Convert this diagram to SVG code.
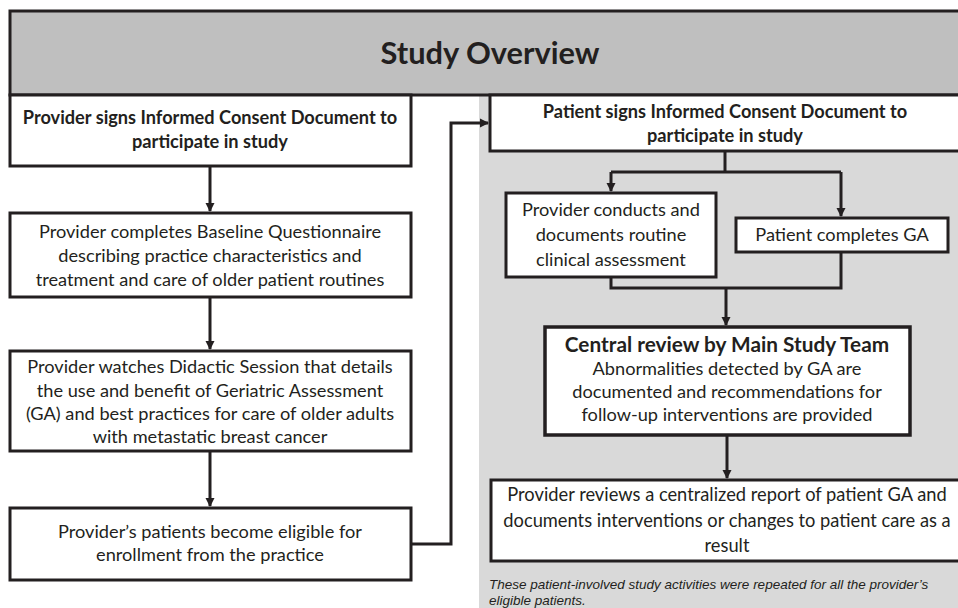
<svg xmlns="http://www.w3.org/2000/svg" width="958" height="608" viewBox="0 0 958 608">
<defs>
<style>
.box{fill:#fff;stroke:#231f20;stroke-width:3}
.t{font-family:Lato,"Open Sans","Liberation Sans",sans-serif;font-size:18.2px;fill:#231f20;text-anchor:middle}
.b{font-weight:bold}
.conn{fill:none;stroke:#231f20;stroke-width:3}
.fn{font-family:"Liberation Sans",Arial,sans-serif;font-size:13.5px;font-style:italic;fill:#231f20}
</style>
<marker id="ah" markerWidth="10" markerHeight="10" refX="8" refY="5" orient="auto" markerUnits="userSpaceOnUse">
<path d="M0,0.5 L9,5 L0,9.5 Z" fill="#231f20"/>
</marker>
</defs>
<rect x="0" y="0" width="958" height="608" fill="#fff"/>
<rect x="479" y="95" width="480" height="513" fill="#d9d9d9"/>
<g id="header">
<rect x="10" y="11" width="952" height="84" fill="#bfbfbf" stroke="#231f20" stroke-width="3"/>
<text class="t b" x="490" y="64" style="font-size:30.8px">Study Overview</text>
</g>
<g id="connectors">
<path class="conn" d="M210,167 V211" marker-end="url(#ah)"/>
<path class="conn" d="M210,297 V349" marker-end="url(#ah)"/>
<path class="conn" d="M210,451 V506" marker-end="url(#ah)"/>
<path class="conn" d="M411,544 H451 V123 H488" marker-end="url(#ah)"/>
<path class="conn" d="M725,151 V172"/>
<path class="conn" d="M611,172 H841"/>
<path class="conn" d="M611,172 V191" marker-end="url(#ah)"/>
<path class="conn" d="M841,172 V216" marker-end="url(#ah)"/>
<path class="conn" d="M611,277 V288 H841 V252"/>
<path class="conn" d="M726,288 V325" marker-end="url(#ah)"/>
<path class="conn" d="M727,436 V478" marker-end="url(#ah)"/>
</g>
<g id="provider-consent">
<rect class="box" x="10" y="95" width="401" height="71"/>
<text class="t b" x="210" y="124">Provider signs Informed Consent Document to</text>
<text class="t b" x="210" y="148">participate in study</text>
</g>
<g id="baseline">
<rect class="box" x="10" y="213" width="401" height="84"/>
<text class="t" x="210" y="238">Provider completes Baseline Questionnaire</text>
<text class="t" x="210" y="262">describing practice characteristics and</text>
<text class="t" x="210" y="286">treatment and care of older patient routines</text>
</g>
<g id="didactic">
<rect class="box" x="10" y="351" width="401" height="100"/>
<text class="t" x="210" y="373">Provider watches Didactic Session that details</text>
<text class="t" x="210" y="397">the use and benefit of Geriatric Assessment</text>
<text class="t" x="210" y="420">(GA) and best practices for care of older adults</text>
<text class="t" x="210" y="443">with metastatic breast cancer</text>
</g>
<g id="eligible">
<rect class="box" x="10" y="508" width="401" height="72"/>
<text class="t" x="210" y="538">Provider’s patients become eligible for</text>
<text class="t" x="210" y="561">enrollment from the practice</text>
</g>
<g id="patient-consent">
<rect class="box" x="490" y="95" width="472" height="56"/>
<text class="t b" x="725" y="118">Patient signs Informed Consent Document to</text>
<text class="t b" x="725" y="142">participate in study</text>
</g>
<g id="routine">
<rect class="box" x="506" y="193" width="210" height="84"/>
<text class="t" x="611" y="216">Provider conducts and</text>
<text class="t" x="611" y="241">documents routine</text>
<text class="t" x="611" y="266">clinical assessment</text>
</g>
<g id="ga">
<rect class="box" x="736" y="218" width="212" height="34"/>
<text class="t" x="842" y="241">Patient completes GA</text>
</g>
<g id="central">
<rect class="box" x="545" y="327" width="365" height="108" style="stroke-width:3.5"/>
<text class="t b" x="727" y="352" style="font-size:20.8px">Central review by Main Study Team</text>
<text class="t" x="727" y="375">Abnormalities detected by GA are</text>
<text class="t" x="727" y="398">documented and recommendations for</text>
<text class="t" x="727" y="421">follow-up interventions are provided</text>
</g>
<g id="report">
<rect class="box" x="491" y="480" width="471" height="81"/>
<text class="t" x="727" y="501" style="font-size:18.3px">Provider reviews a centralized report of patient GA and</text>
<text class="t" x="727" y="527" style="font-size:18.3px">documents interventions or changes to patient care as a</text>
<text class="t" x="727" y="552" style="font-size:18.3px">result</text>
</g>
<g id="footnote">
<text class="fn" x="489" y="589">These patient-involved study activities were repeated for all the provider’s</text>
<text class="fn" x="489" y="605">eligible patients.</text>
</g>
</svg>
